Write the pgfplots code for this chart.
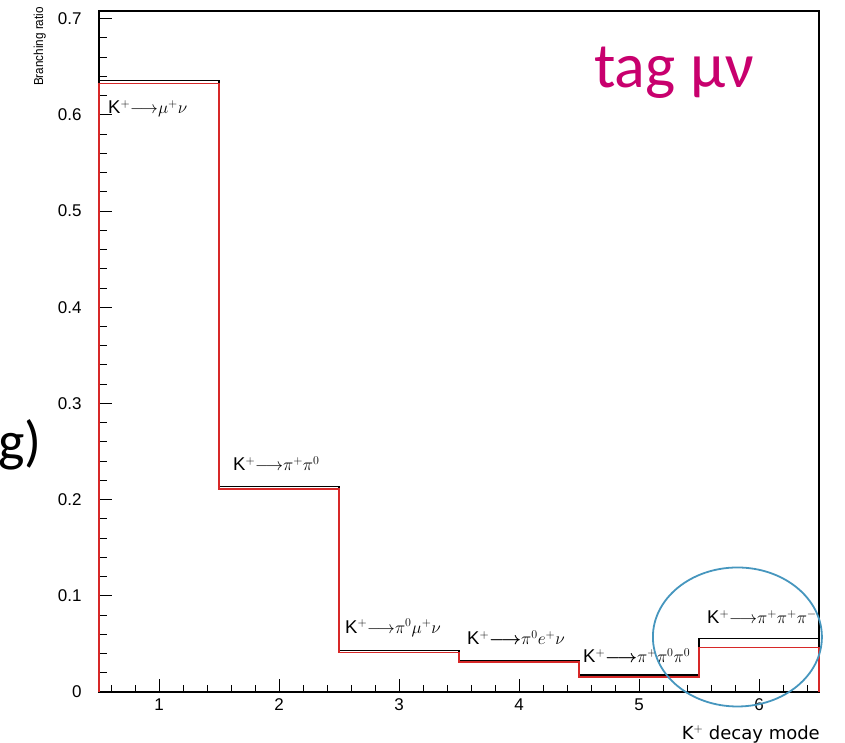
\documentclass[border=0pt]{standalone}
\usepackage{pgfplots}
\pgfplotsset{compat=1.18}
\usepackage{bm}
\usepackage{fontspec}
\setmainfont{Liberation Sans}
\newfontfamily\dejavu{DejaVu Sans}
\newfontfamily\carlito{Carlito}
\definecolor{histred}{RGB}{215,40,40}
\definecolor{tagmag}{RGB}{200,0,110}
\definecolor{ringblue}{RGB}{70,150,190}
\newcommand\decayfont{\fontsize{18.5}{18.5}\selectfont}

\begin{document}
\begin{tikzpicture}[x=1pt,y=1pt]
\useasboundingbox (0,0) rectangle (845,742);
\begin{axis}[
  at={(99pt,50pt)}, anchor=south west,
  width=720pt, height=681pt, scale only axis,
  xmin=0.5, xmax=6.5, ymin=0, ymax=0.708,
  clip=false,
  axis line style={black, line width=1.2pt},
  tick align=inside, xtick pos=bottom, ytick pos=left,
  xtick={1,2,3,4,5,6},
  ytick={0,0.1,0.2,0.3,0.4,0.5,0.6,0.7},
  minor xtick={0.6,0.8,1.2,1.4,1.6,1.8,2.2,2.4,2.6,2.8,3.2,3.4,3.6,3.8,4.2,4.4,4.6,4.8,5.2,5.4,5.6,5.8,6.2,6.4},
  minor ytick={0.02,0.04,0.06,0.08,0.12,0.14,0.16,0.18,0.22,0.24,0.26,0.28,0.32,0.34,0.36,0.38,0.42,0.44,0.46,0.48,0.52,0.54,0.56,0.58,0.62,0.64,0.66,0.68},
  major tick length=13pt, minor tick length=7.5pt,
  every tick/.style={black, line width=1pt},
  /pgf/number format/assume math mode=true,
  ticklabel style={font=\fontsize{17}{17}\selectfont},
  yticklabel style={/pgf/number format/fixed, xshift=-14pt},
  xticklabel style={yshift=-3pt},
]
% reference histogram
\addplot[const plot mark left, black, line width=1.4pt] coordinates {
  (0.5,0) (0.5,0.6355) (1.5,0.2136) (2.5,0.0430) (3.5,0.0330)
  (4.5,0.0175) (5.5,0.0558) (6.5,0.0558) (6.5,0)};
% tagged sample
\addplot[const plot mark left, histred, line width=1.4pt] coordinates {
  (0.5,0) (0.5,0.6325) (1.5,0.2112) (2.5,0.0412) (3.5,0.0312)
  (4.5,0.0158) (5.5,0.0465) (6.5,0.0465) (6.5,0)};

% decay channel labels
\node[anchor=west, inner sep=0] at (axis cs:0.575,0.6067)
  {\decayfont K$^{+}{\longrightarrow}\mu^{+}\nu$};
\node[anchor=west, inner sep=0] at (axis cs:1.617,0.2373)
  {\decayfont K$^{+}{\longrightarrow}\pi^{+}\pi^{0}$};
\node[anchor=west, inner sep=0] at (axis cs:2.55,0.0666)
  {\decayfont K$^{+}{\longrightarrow}\pi^{0}\mu^{+}\nu$};
\node[anchor=west, inner sep=0] at (axis cs:3.567,0.0562)
  {\decayfont K$^{+}{\bm{\longrightarrow}}\pi^{0}e^{+}\nu$};
\node[anchor=west, inner sep=0] at (axis cs:4.533,0.0375)
  {\decayfont K$^{+}{\bm{\longrightarrow}}\pi^{+}\pi^{0}\pi^{0}$};
\node[anchor=west, inner sep=0] at (axis cs:5.567,0.078)
  {\decayfont K$^{+}{\longrightarrow}\pi^{+}\pi^{+}\pi^{-}$};

% axis titles
\node[anchor=base east, inner sep=0, font=\dejavu\fontsize{18}{18}\selectfont]
  at ([xshift=1pt,yshift=-47pt]rel axis cs:1,0) {K$^{+}$ decay mode};
% highlighted channel
\draw[ringblue, line width=1.8pt] (axis cs:5.82,0.0572) ellipse [x radius=84.5pt, y radius=69.5pt];
\end{axis}
\node[rotate=90, anchor=base east, inner sep=0, xscale=0.9, font=\fontsize{13}{13}\selectfont]
  at (43,735) {Branching ratio};
\node[anchor=base west, inner sep=0, text=tagmag, font=\carlito\fontsize{64}{64}\selectfont]
  at (594,654) {tag μν};
\node[anchor=base east, inner sep=0, font=\carlito\fontsize{56}{56}\selectfont]
  at (42,281) {g)};
\end{tikzpicture}
\end{document}
